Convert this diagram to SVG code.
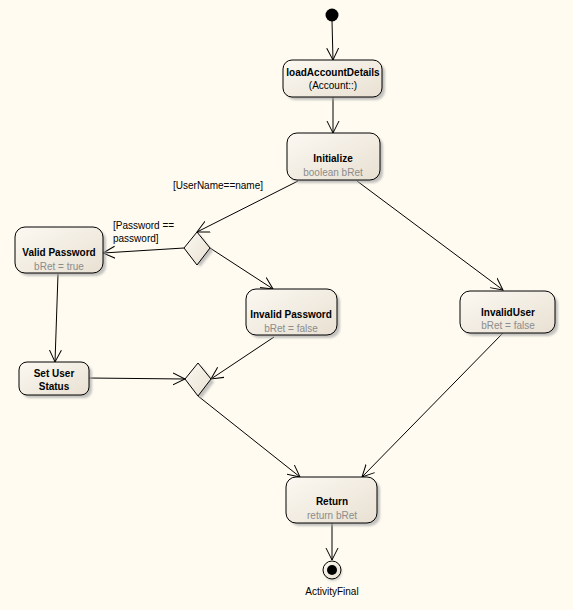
<svg xmlns="http://www.w3.org/2000/svg" width="573" height="610" viewBox="0 0 573 610">
<defs>
<linearGradient id="g" x1="0" y1="0" x2="1" y2="1">
<stop offset="0" stop-color="#FCF9F2"/>
<stop offset="1" stop-color="#E8E0D2"/>
</linearGradient>
<marker id="arr" markerUnits="userSpaceOnUse" markerWidth="14" markerHeight="14" refX="12" refY="6" orient="auto" viewBox="0 0 14 12">
<path d="M0,0 L12,6 L0,12" fill="none" stroke="#000" stroke-width="1"/>
</marker>
<filter id="sh" x="-20%" y="-20%" width="140%" height="140%">
<feGaussianBlur stdDeviation="1"/>
</filter>
</defs>
<style>
.node{fill:url(#g);stroke:#000;stroke-width:1}
.shadow{fill:#A9A9A9;opacity:0.7;filter:url(#sh)}
.t{font-family:"Liberation Sans",Arial,sans-serif;font-size:10px;font-weight:bold;fill:#000;text-anchor:middle}
.s{font-family:"Liberation Sans",Arial,sans-serif;font-size:10px;fill:#8C8C8C;text-anchor:middle}
.l{font-family:"Liberation Sans",Arial,sans-serif;font-size:10px;fill:#000}
.c{fill:none;stroke:#000;stroke-width:1;marker-end:url(#arr)}
</style>
<rect width="573" height="610" fill="#FFFBF0"/>
<g id="connectors">
<line class="c" x1="332" y1="21" x2="333" y2="60"/>
<line class="c" x1="333" y1="97" x2="333" y2="133"/>
<line class="c" x1="298" y1="181" x2="197" y2="232"/>
<line class="c" x1="357" y1="181" x2="503" y2="290"/>
<line class="c" x1="184" y1="248" x2="103" y2="253"/>
<line class="c" x1="210" y1="248" x2="273" y2="289"/>
<line class="c" x1="58" y1="274" x2="55" y2="362"/>
<line class="c" x1="89" y1="378" x2="185" y2="379"/>
<line class="c" x1="274" y1="337" x2="211" y2="379"/>
<line class="c" x1="198" y1="396" x2="300" y2="477"/>
<line class="c" x1="503" y1="333" x2="362" y2="477"/>
<line class="c" x1="332" y1="523" x2="332" y2="560"/>
<text class="l" x="173" y="189">[UserName==name]</text>
<text class="l" x="113" y="229">[Password ==</text>
<text class="l" x="113" y="242">password]</text>
</g>
<g id="initial">
<circle cx="332" cy="15" r="6.5" fill="#000"/>
</g>
<g id="loadAccountDetails">
<rect class="shadow" x="286" y="63" width="99" height="37" rx="9"/>
<rect class="node" x="283" y="60" width="99" height="37" rx="9"/>
<text class="t" x="333" y="76">loadAccountDetails</text>
<text class="l" x="333" y="89" text-anchor="middle">(Account::)</text>
</g>
<g id="initialize">
<rect class="shadow" x="290" y="136" width="93" height="47" rx="10"/>
<rect class="node" x="287" y="133" width="93" height="47" rx="10"/>
<text class="t" x="333" y="162">Initialize</text>
<text class="s" x="333" y="176">boolean bRet</text>
</g>
<g id="validPassword">
<rect class="shadow" x="18" y="230" width="88" height="46" rx="10"/>
<rect class="node" x="15" y="227" width="88" height="46" rx="10"/>
<text class="t" x="59" y="256">Valid Password</text>
<text class="s" x="59" y="270">bRet = true</text>
</g>
<g id="decision1">
<polygon class="shadow" points="187,251 200,235 213,251 200,267"/>
<polygon class="node" points="184,248 197,232 210,248 197,265"/>
</g>
<g id="invalidPassword">
<rect class="shadow" x="249" y="292" width="91" height="46" rx="10"/>
<rect class="node" x="246" y="289" width="91" height="46" rx="10"/>
<text class="t" x="291" y="318">Invalid Password</text>
<text class="s" x="291" y="332">bRet = false</text>
</g>
<g id="invalidUser">
<rect class="shadow" x="463" y="294" width="95" height="42" rx="10"/>
<rect class="node" x="460" y="291" width="95" height="42" rx="10"/>
<text class="t" x="508" y="316">InvalidUser</text>
<text class="s" x="508" y="329">bRet = false</text>
</g>
<g id="setUserStatus">
<rect class="shadow" x="22" y="365" width="70" height="33" rx="8"/>
<rect class="node" x="19" y="362" width="70" height="33" rx="8"/>
<text class="t" x="54" y="377">Set User</text>
<text class="t" x="54" y="390">Status</text>
</g>
<g id="decision2">
<polygon class="shadow" points="188,382 201,366 214,382 201,399"/>
<polygon class="node" points="185,379 198,363 211,379 198,396"/>
</g>
<g id="return">
<rect class="shadow" x="289" y="480" width="91" height="46" rx="10"/>
<rect class="node" x="286" y="477" width="91" height="46" rx="10"/>
<text class="t" x="332" y="505">Return</text>
<text class="s" x="332" y="519">return bRet</text>
</g>
<g id="activityFinal">
<circle cx="333" cy="572" r="9" fill="#A9A9A9" opacity="0.6" filter="url(#sh)"/>
<circle cx="332" cy="570" r="9" fill="url(#g)" stroke="#000"/>
<circle cx="332" cy="570" r="5" fill="#000"/>
<text class="l" x="332" y="595" text-anchor="middle">ActivityFinal</text>
</g>
</svg>
